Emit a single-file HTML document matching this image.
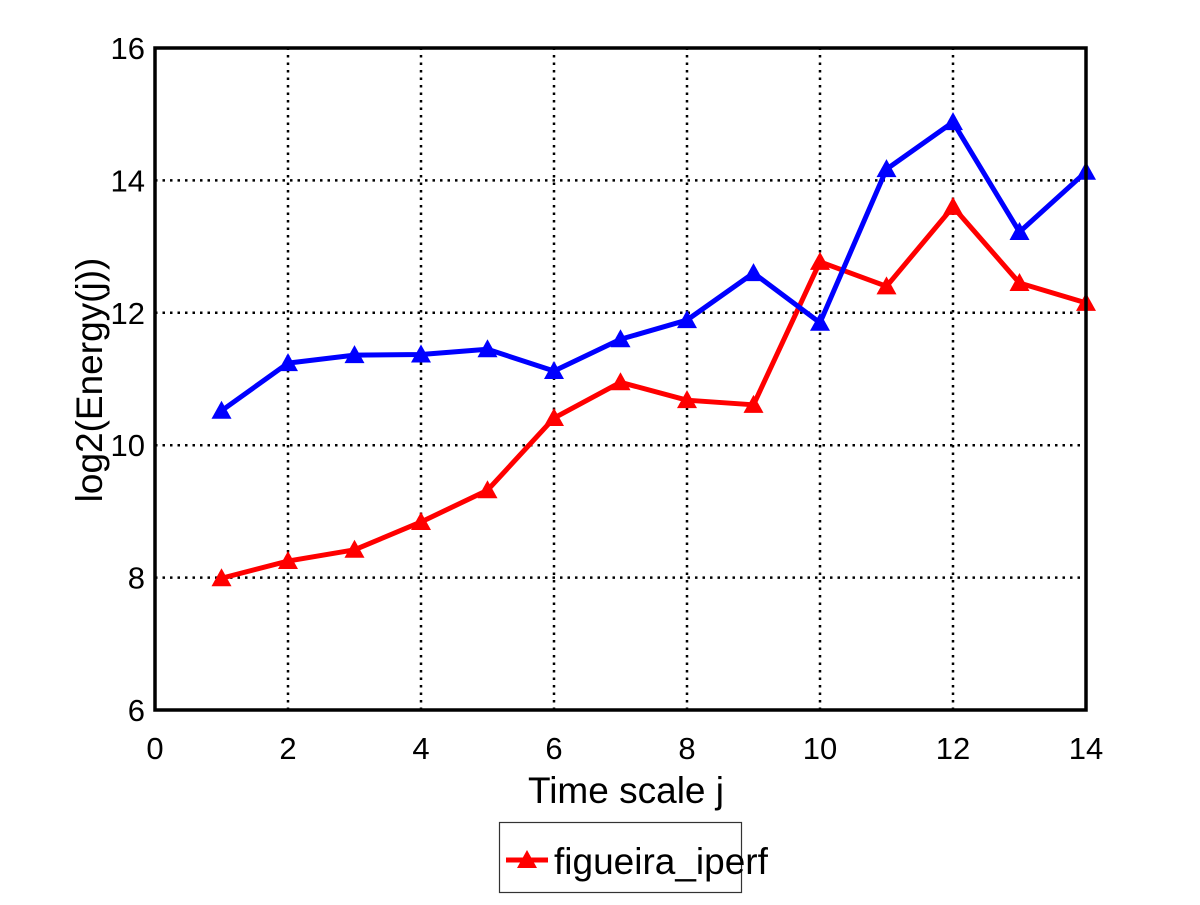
<!DOCTYPE html>
<html><head><meta charset="utf-8"><style>
body{margin:0;background:#fff}
svg text{font-family:"Liberation Sans",sans-serif;fill:#000}
</style></head><body>
<svg id="chart" width="1200" height="900">
<rect width="1200" height="900" fill="#fff"/>
<g id="grid"></g><g id="series"></g><g id="axes"></g>
</svg>
<script>
const xTicks=[0,2,4,6,8,10,12,14];
const yTicks=[6,8,10,12,14,16];
const scales=[1,2,3,4,5,6,7,8,9,10,11,12,13,14];
const blueValues=[10.52,11.24,11.36,11.37,11.45,11.12,11.6,11.89,12.6,11.85,14.17,14.88,13.22,14.13];
const redValues=[7.99,8.25,8.42,8.84,9.32,10.41,10.95,10.68,10.61,12.77,12.4,13.6,12.45,12.15];
const X0=155,X1=1086,Y0=710,Y1=48;
const sx=v=>X0+(v-0)/(14-0)*(X1-X0);
const sy=v=>Y0-(v-6)/(16-6)*(Y0-Y1);
const NS='http://www.w3.org/2000/svg';
function mk(t,a,p){const e=document.createElementNS(NS,t);for(const k in a)e.setAttribute(k,a[k]);p.appendChild(e);return e;}
const grid=document.getElementById('grid'),axes=document.getElementById('axes'),ser=document.getElementById('series');
xTicks.forEach(t=>{
  if(t>0&&t<14){const l=mk('line',{x1:sx(t),x2:sx(t),y1:Y0,y2:Y1,stroke:'#000','stroke-width':2.5,'stroke-dasharray':'2.5,5'},grid);
  }
  const tx=mk('text',{x:sx(t),y:Y0+49,'text-anchor':'middle','font-size':31},axes);tx.textContent=t;
  
});
yTicks.forEach(t=>{
  if(t>6&&t<16){const l=mk('line',{x1:X0,x2:X1,y1:sy(t),y2:sy(t),stroke:'#000','stroke-width':2.5,'stroke-dasharray':'2.5,5'},grid);
  }
  const tx=mk('text',{x:X0-10,y:sy(t)+11,'text-anchor':'end','font-size':31},axes);tx.textContent=t;
  
});
const fr=mk('rect',{x:X0,y:Y1,width:X1-X0,height:Y0-Y1,fill:'none',stroke:'#000','stroke-width':3.5},axes);

const xl=mk('text',{x:626,y:803,'text-anchor':'middle','font-size':37},axes);xl.textContent='Time scale j';

const yl=mk('text',{x:0,y:0,'text-anchor':'middle','font-size':37,transform:'translate(102,380) rotate(-90)'},axes);yl.textContent='log2(Energy(j))';

function tri(x,y,c,p){return mk('polygon',{points:`${x},${y-10} ${x-10},${y+8} ${x+10},${y+8}`,fill:c},p);}
function drawSeries(vals,c,name){
  const pl=mk('polyline',{points:scales.map((s,i)=>sx(s)+','+sy(vals[i])).join(' '),fill:'none',stroke:c,'stroke-width':5,'stroke-linejoin':'round'},ser);
  
  scales.forEach((s,i)=>{const m=tri(sx(s),sy(vals[i]),c,ser);
    });
}
drawSeries(redValues,'#ff0000','red-series');
drawSeries(blueValues,'#0000ff','blue-series');
const lg=mk('g',{},axes);
mk('rect',{x:499.5,y:822.5,width:242,height:70,fill:'#fff',stroke:'#333','stroke-width':1.2},lg);
mk('line',{x1:506,x2:548,y1:860,y2:860,stroke:'#f00','stroke-width':5},lg);
tri(527,860,'#f00',lg);
const lt=mk('text',{x:554,y:874,'font-size':37},lg);lt.textContent='figueira_iperf';

</script>
</body></html>
